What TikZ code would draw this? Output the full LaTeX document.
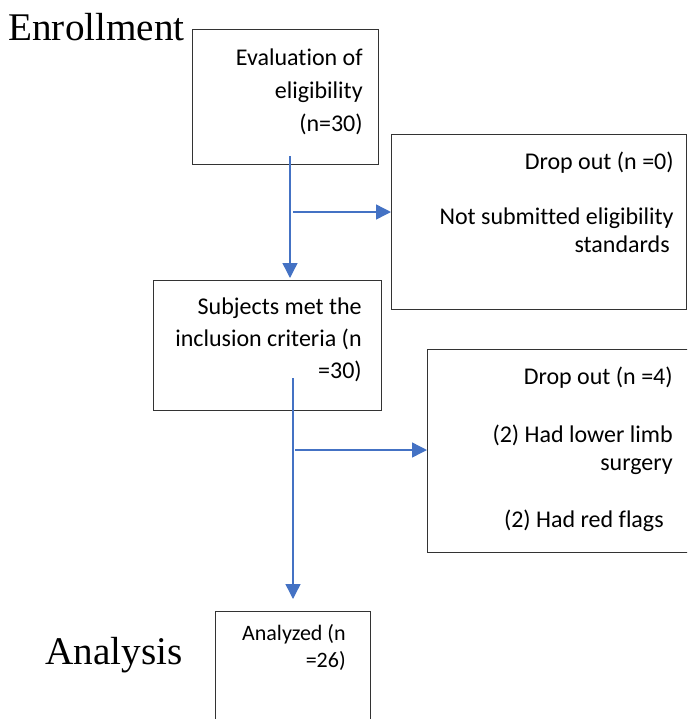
\documentclass[tikz,border=0pt]{standalone}
\usepackage{fontspec}
\setmainfont{Carlito}[Ligatures=NoCommon]
\newfontfamily\headfont{Liberation Serif}
\usetikzlibrary{positioning, arrows.meta}

\definecolor{flowblue}{HTML}{4472C4}
% width, height, first baseline, right padding, text
\newcommand{\boxbody}[5]{\parbox[t][#2][t]{#1}{\raggedleft\rightskip=#4\relax\rule{0pt}{#3}#5\par}}

\begin{document}
\begin{tikzpicture}[x=0.5pt, y=-0.5pt,
            flowbox/.style={draw=black!80, line width=0.7pt, rectangle, anchor=north west, inner sep=0pt, font=\fontsize{12}{14}\selectfont},
            flow/.style={draw=flowblue, line width=0.7pt, -{Triangle[length=7.5pt, width=7.5pt]}},
            phase/.style={font=\headfont\fontsize{19.6}{23}\selectfont, anchor=base west, inner sep=0pt}
        ]
        \clip (0,0) rectangle (687,719);

        % Boxes
        \node[flowbox, font=\fontsize{12}{16.5}\selectfont] (eval) at (192,29) {\boxbody{93pt}{67.5pt}{18pt}{8pt}{Evaluation of\\ eligibility\\ (n=30)}};
        \node[flowbox] (drop0) at (391,134) {\boxbody{147.5pt}{87.5pt}{17.5pt}{6.5pt}{Drop out (n =0)\\[13.5pt] Not submitted eligibility\\ standards\hspace*{2pt}}};
        \node[flowbox, font=\fontsize{12}{16}\selectfont] (subjects) at (153,280) {\boxbody{114pt}{65pt}{17pt}{10pt}{Subjects met the\\ inclusion criteria (n\hspace*{2pt}\\ =30)}};
        \node[flowbox] (drop4) at (427,349) {\boxbody{136.5pt}{101.5pt}{17.5pt}{14pt}{Drop out (n =4)\hspace*{1.5pt}\\[15pt] (2) Had lower limb\\ surgery\hspace*{3.5pt}\\[14.5pt] (2) Had red flags\hspace*{4.5pt}}};
        \node[flowbox, font=\fontsize{11}{13.5}\selectfont] (analyzed) at (215,611) {\boxbody{77.5pt}{60pt}{14.5pt}{12.5pt}{Analyzed (n\\ =26)}};

        % Phase labels
        \node[phase] (enroll) at (8,40) {Enrollment};
        \node[phase] (analysis) at (45,664) {Analysis};

        % Arrows
        \coordinate (evalout) at (290,156);
        \coordinate (branch0) at (293,212);
        \coordinate (subjout) at (293,378);
        \coordinate (branch4) at (295,450);

        \draw[flow, shorten >=1pt] (evalout) -- (evalout |- subjects.north);
        \draw[flow] (branch0) -- (branch0 -| drop0.west);
        \draw[flow, shorten >=6pt] (subjout) -- (subjout |- analyzed.north);
        \draw[flow] (branch4) -- (branch4 -| drop4.west);

    \end{tikzpicture}
\end{document}
